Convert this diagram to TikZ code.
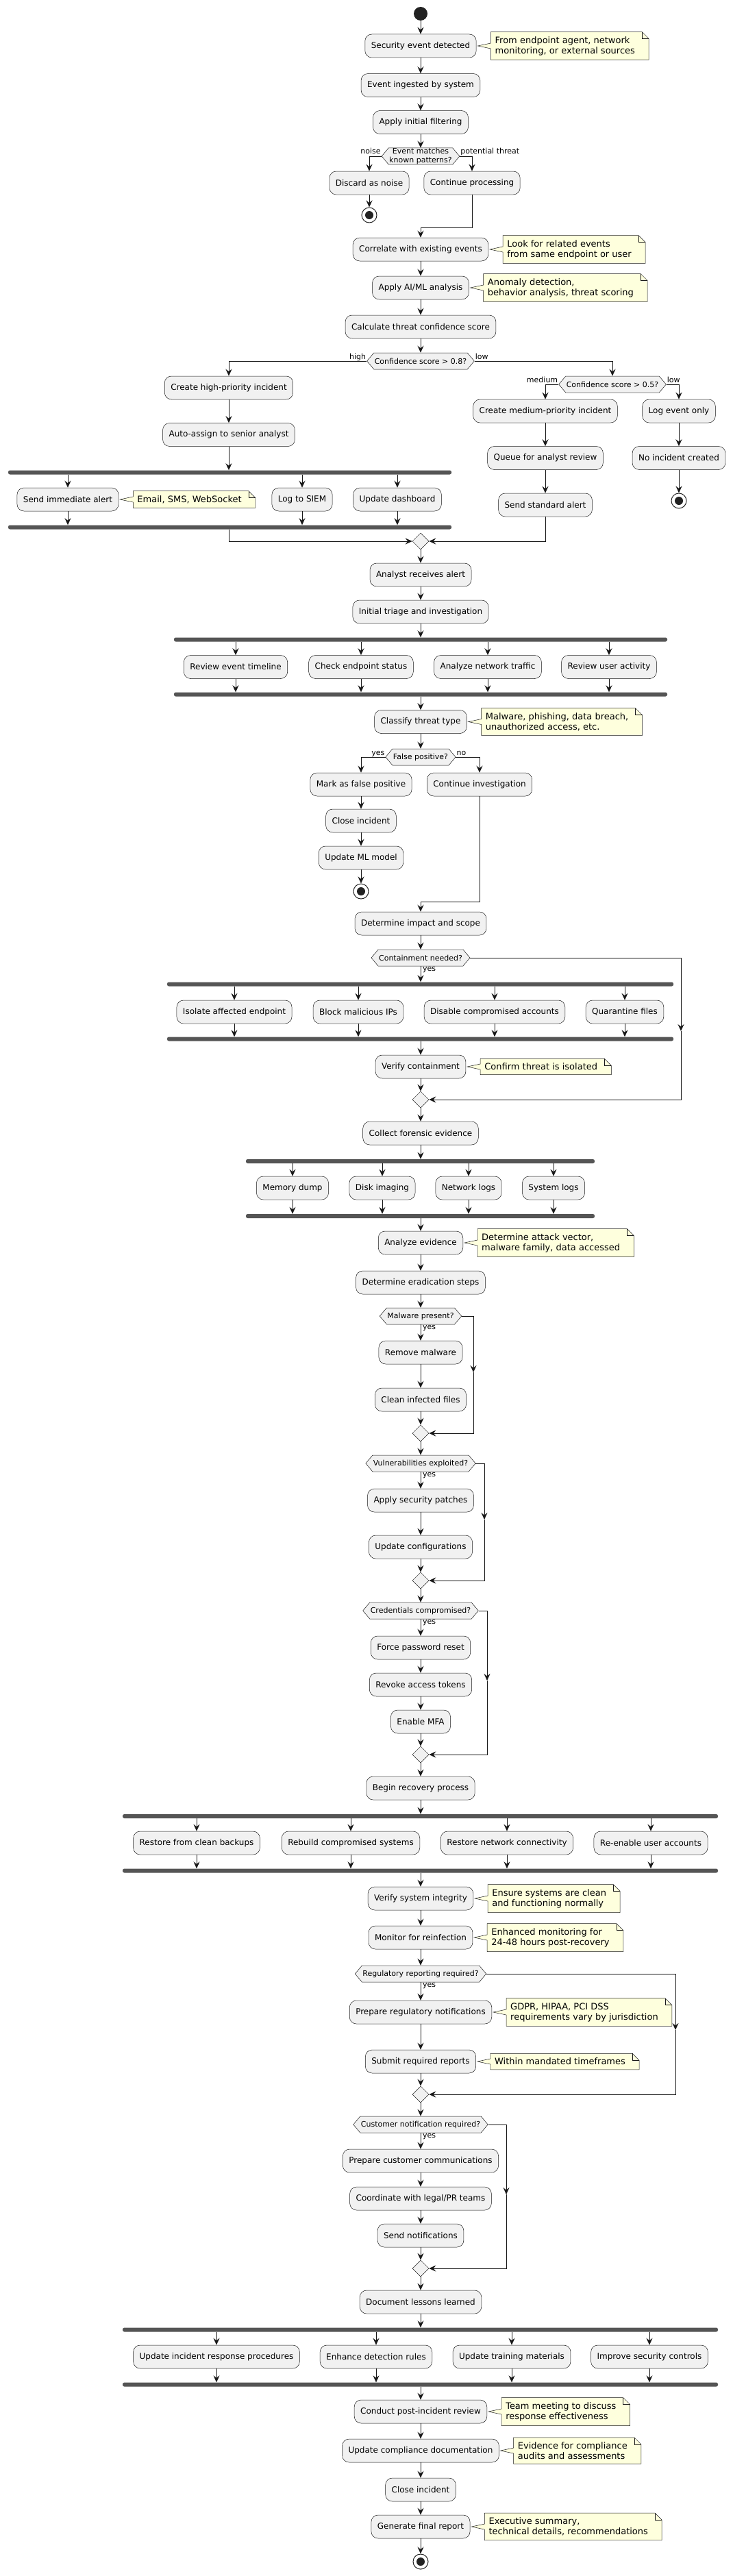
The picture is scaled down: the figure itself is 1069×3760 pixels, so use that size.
\documentclass[tikz,border=0pt]{standalone}
\usepackage{fontspec}
\setmainfont{DejaVu Sans}
\usetikzlibrary{positioning, arrows.meta, shapes.geometric, shapes.symbols, backgrounds}

\definecolor{actfill}{HTML}{F1F1F1}
\definecolor{linec}{HTML}{181818}
\definecolor{notefill}{HTML}{FEFFDD}
\definecolor{barc}{HTML}{555555}
\definecolor{dotc}{HTML}{222222}

\tikzset{
    act/.style={draw=linec, fill=actfill, line width=0.5pt, rounded corners=10pt, minimum height=34pt, inner xsep=9pt, font=\fontsize{12}{14}\selectfont},
    dec/.style={signal, signal to=west and east, signal pointer angle=100, draw=linec, fill=actfill, line width=0.5pt, minimum height=24pt, inner xsep=1pt, inner ysep=1pt, align=center, font=\fontsize{11}{13}\selectfont},
    merge/.style={diamond, draw=linec, fill=actfill, line width=0.5pt, minimum width=24pt, minimum height=24pt, inner sep=0pt},
    bar/.style={fill=barc, rounded corners=2.5pt, minimum height=6pt, inner sep=0pt},
    notetext/.style={align=left, inner xsep=6pt, inner ysep=6.5pt, font=\fontsize{13}{15}\selectfont},
    notebox/.style={draw=linec, fill=notefill, line width=0.5pt},
    startnode/.style={circle, fill=dotc, minimum size=20pt, inner sep=0pt},
    endnode/.style={circle, draw=dotc, fill=white, line width=1pt, minimum size=22pt, inner sep=0pt,
        path picture={\fill[dotc] (path picture bounding box.center) circle (6pt);}},
    flow/.style={draw=linec, line width=1pt, -{Stealth[length=10pt, width=9pt, inset=3.5pt]}},
    lbl/.style={font=\fontsize{11}{13}\selectfont, inner sep=1pt}
}

% note outline with folded corner and wedge towards its activity
\newcommand{\notebg}[2]{%
    \begin{scope}[on background layer]
        \draw[notebox] (#1.north west) -- ([xshift=4pt]#1.north east) -- ([xshift=14pt,yshift=-10pt]#1.north east)
            -- ([xshift=14pt]#1.south east) -- (#1.south west) -- ([yshift=-4pt]#1.west)
            -- ([xshift=2pt]#2.east) -- ([yshift=4pt]#1.west) -- cycle;
        \draw[notebox, fill=none] ([xshift=4pt]#1.north east) -- ([xshift=4pt,yshift=-10pt]#1.north east)
            -- ([xshift=14pt,yshift=-10pt]#1.north east);
    \end{scope}}

\begin{document}
\begin{tikzpicture}[x=1pt, y=-1pt]
\useasboundingbox (0,0) rectangle (1069,3760);
\begin{scope}[on background layer]
    \fill[white] (0,0) rectangle (1069,3760);
\end{scope}

% detection and filtering
\node[startnode] (s0) at (614,20) {};
\node[act] (a1) at (614,67) {Security event detected};
\node[notetext, right=21pt of a1] (n1) {From endpoint agent, network\\monitoring, or external sources};
\node[act] (a2) at (614,124.5) {Event ingested by system};
\node[act] (a3) at (614,178.5) {Apply initial filtering};
\node[dec, inner ysep=0pt] (d1) at (614,228) {Event matches\\known patterns?};
\node[act] (a4) at (539,267) {Discard as noise};
\node[endnode] (e1) at (539,314) {};
\node[act] (a5) at (689,267) {Continue processing};
\coordinate (k1) at (614,332);

\draw[flow] (s0) -- (a1.north);
\draw[flow] (a1.south) -- (a2.north);
\draw[flow] (a2.south) -- (a3.north);
\draw[flow] (a3.south) -- (d1.north);
\draw[flow] (d1.west) -| (a4.north);
\draw[flow] (d1.east) -| (a5.north);
\draw[flow] (a4.south) -- (e1.north);
\node[lbl, anchor=base east] (l1) at ([yshift=3pt]d1.west) {noise};
\node[lbl, anchor=base west] (l2) at ([yshift=3pt]d1.east) {potential threat};

% correlation and scoring
\node[act] (a6) at (614,364) {Correlate with existing events};
\node[notetext, right=21pt of a6] (n2) {Look for related events\\from same endpoint or user};
\node[act] (a7) at (614,420) {Apply AI/ML analysis};
\node[notetext, right=21pt of a7] (n3) {Anomaly detection,\\behavior analysis, threat scoring};
\node[act] (a8) at (614,477) {Calculate threat confidence score};
\node[dec] (d2) at (614,527) {Confidence score > 0.8?};
\node[act] (a9) at (334,566) {Create high-priority incident};
\node[act] (a12) at (334,634.5) {Auto-assign to senior analyst};
\node[dec] (d3) at (894,561) {Confidence score > 0.5?};
\node[act] (a10) at (796,600) {Create medium-priority incident};
\node[act] (a16) at (796,668.5) {Queue for analyst review};
\node[act] (a18) at (796,737) {Send standard alert};
\node[act] (a11) at (991,600) {Log event only};
\node[act] (a17) at (991,668.5) {No incident created};
\node[endnode] (e2) at (991,731) {};

\draw[flow] (a5.south) |- (k1) -- (a6.north);
\draw[flow] (a6.south) -- (a7.north);
\draw[flow] (a7.south) -- (a8.north);
\draw[flow] (a8.south) -- (d2.north);
\draw[flow] (d2.west) -| (a9.north);
\draw[flow] (d2.east) -| (d3.north);
\draw[flow] (d3.west) -| (a10.north);
\draw[flow] (d3.east) -| (a11.north);
\draw[flow] (a9.south) -- (a12.north);
\draw[flow] (a10.south) -- (a16.north);
\draw[flow] (a16.south) -- (a18.north);
\draw[flow] (a11.south) -- (a17.north);
\draw[flow] (a17.south) -- (e2.north);
\node[lbl, anchor=base east] (l3) at ([yshift=3pt]d2.west) {high};
\node[lbl, anchor=base west] (l4) at ([yshift=3pt]d2.east) {low};
\node[lbl, anchor=base east] (l5) at ([yshift=3pt]d3.west) {medium};
\node[lbl, anchor=base west] (l6) at ([yshift=3pt]d3.east) {low};

% high-priority alerting
\node[bar, minimum width=647pt] (f1) at (335.5,689.5) {};
\node[act] (a13) at (99,729) {Send immediate alert};
\node[notetext, right=21pt of a13] (n4) {Email, SMS, WebSocket};
\node[act] (a14) at (441,729) {Log to SIEM};
\node[act] (a15) at (580,729) {Update dashboard};
\node[bar, minimum width=647pt] (j1) at (335.5,769.5) {};
\node[merge] (m1) at (614,790) {};

\draw[flow] (a12.south) -- (f1.north -| a12);
\foreach \leaf in {a13,a14,a15}{
    \draw[flow] (f1.south -| \leaf) -- (\leaf.north);
    \draw[flow] (\leaf.south) -- (j1.north -| \leaf);
}
\draw[flow] (j1.south -| a12) |- (m1.west);
\draw[flow] (a18.south) |- (m1.east);

% triage
\node[act] (a19) at (614,839) {Analyst receives alert};
\node[act] (a20) at (614,893) {Initial triage and investigation};
\node[bar, minimum width=720pt] (f2) at (614,933.5) {};
\node[act] (a21) at (344,973.5) {Review event timeline};
\node[act] (a22) at (527,973.5) {Check endpoint status};
\node[act] (a23) at (712,973.5) {Analyze network traffic};
\node[act] (a24) at (889,973.5) {Review user activity};
\node[bar, minimum width=720pt] (j2) at (614,1013.5) {};
\node[act] (a25) at (614,1053.5) {Classify threat type};
\node[notetext, right=21pt of a25] (n5) {Malware, phishing, data breach,\\unauthorized access, etc.};
\node[dec] (d4) at (614,1105) {False positive?};
\node[act] (a26) at (527,1145) {Mark as false positive};
\node[act] (a28) at (527,1198) {Close incident};
\node[act] (a29) at (527,1252) {Update ML model};
\node[endnode] (e3) at (527,1301) {};
\node[act] (a27) at (700,1145) {Continue investigation};
\coordinate (k2) at (614,1316);

\draw[flow] (m1.south) -- (a19.north);
\draw[flow] (a19.south) -- (a20.north);
\draw[flow] (a20.south) -- (f2.north);
\foreach \leaf in {a21,a22,a23,a24}{
    \draw[flow] (f2.south -| \leaf) -- (\leaf.north);
    \draw[flow] (\leaf.south) -- (j2.north -| \leaf);
}
\draw[flow] (j2.south) -- (a25.north);
\draw[flow] (a25.south) -- (d4.north);
\draw[flow] (d4.west) -| (a26.north);
\draw[flow] (d4.east) -| (a27.north);
\draw[flow] (a26.south) -- (a28.north);
\draw[flow] (a28.south) -- (a29.north);
\draw[flow] (a29.south) -- (e3.north);
\node[lbl, anchor=base east] (l7) at ([yshift=3pt]d4.west) {yes};
\node[lbl, anchor=base west] (l8) at ([yshift=3pt]d4.east) {no};

% containment
\node[act] (a30) at (614,1348) {Determine impact and scope};
\node[dec] (d5) at (614,1398) {Containment needed?};
\node[bar, minimum width=739pt] (f3) at (613.5,1436.5) {};
\node[act] (a31) at (342,1477) {Isolate affected endpoint};
\node[act] (a32) at (523,1477) {Block malicious IPs};
\node[act] (a33) at (722,1477) {Disable compromised accounts};
\node[act] (a34) at (912,1477) {Quarantine files};
\node[bar, minimum width=739pt] (j3) at (613.5,1516.5) {};
\node[act] (a35) at (614,1557) {Verify containment};
\node[notetext, right=21pt of a35] (n6) {Confirm threat is isolated};
\node[merge] (m2) at (614,1605) {};
\coordinate (c5) at (994,1505);

\draw[flow] (a27.south) |- (k2) -- (a30.north);
\draw[flow] (a30.south) -- (d5.north);
\draw[flow] (d5.south) -- (f3.north -| d5);
\foreach \leaf in {a31,a32,a33,a34}{
    \draw[flow] (f3.south -| \leaf) -- (\leaf.north);
    \draw[flow] (\leaf.south) -- (j3.north -| \leaf);
}
\draw[flow] (j3.south -| a35) -- (a35.north);
\draw[flow] (a35.south) -- (m2.north);
\draw[flow] (d5.east) -| (c5);
\draw[flow] (c5) |- (m2.east);
\node[lbl, anchor=north west] (l9) at ([xshift=2pt]d5.south) {yes};

% forensics
\node[act] (a36) at (614,1654) {Collect forensic evidence};
\node[bar, minimum width=509pt] (f4) at (613.5,1695) {};
\node[act] (a37) at (427,1734) {Memory dump};
\node[act] (a38) at (558,1734) {Disk imaging};
\node[act] (a39) at (684,1734) {Network logs};
\node[act] (a40) at (808,1734) {System logs};
\node[bar, minimum width=509pt] (j4) at (613.5,1775) {};
\node[act] (a41) at (614,1814) {Analyze evidence};
\node[notetext, right=21pt of a41] (n7) {Determine attack vector,\\malware family, data accessed};

\draw[flow] (m2.south) -- (a36.north);
\draw[flow] (a36.south) -- (f4.north -| a36);
\foreach \leaf in {a37,a38,a39,a40}{
    \draw[flow] (f4.south -| \leaf) -- (\leaf.north);
    \draw[flow] (\leaf.south) -- (j4.north -| \leaf);
}
\draw[flow] (j4.south -| a41) -- (a41.north);

% eradication
\node[act] (a42) at (614,1872) {Determine eradication steps};
\node[dec] (d6) at (614,1921) {Malware present?};
\node[act] (a43) at (614,1974) {Remove malware};
\node[act] (a44) at (614,2043) {Clean infected files};
\node[merge] (m3) at (614,2092) {};
\coordinate (c6) at (691,2003);
\node[dec] (d7) at (614,2136) {Vulnerabilities exploited?};
\node[act] (a45) at (614,2190) {Apply security patches};
\node[act] (a46) at (614,2258) {Update configurations};
\node[merge] (m4) at (614,2307) {};
\coordinate (c7) at (707,2218);
\node[dec] (d8) at (614,2351) {Credentials compromised?};
\node[act] (a47) at (614,2405) {Force password reset};
\node[act] (a48) at (614,2459) {Revoke access tokens};
\node[act] (a49) at (614,2513) {Enable MFA};
\node[merge] (m5) at (614,2561) {};
\coordinate (c8) at (711,2453);

\draw[flow] (a41.south) -- (a42.north);
\draw[flow] (a42.south) -- (d6.north);
\draw[flow] (d6.south) -- (a43.north);
\draw[flow] (a43.south) -- (a44.north);
\draw[flow] (a44.south) -- (m3.north);
\draw[flow] (d6.east) -| (c6);
\draw[flow] (c6) |- (m3.east);
\draw[flow] (m3.south) -- (d7.north);
\draw[flow] (d7.south) -- (a45.north);
\draw[flow] (a45.south) -- (a46.north);
\draw[flow] (a46.south) -- (m4.north);
\draw[flow] (d7.east) -| (c7);
\draw[flow] (c7) |- (m4.east);
\draw[flow] (m4.south) -- (d8.north);
\draw[flow] (d8.south) -- (a47.north);
\draw[flow] (a47.south) -- (a48.north);
\draw[flow] (a48.south) -- (a49.north);
\draw[flow] (a49.south) -- (m5.north);
\draw[flow] (d8.east) -| (c8);
\draw[flow] (c8) |- (m5.east);
\node[lbl, anchor=north west] (l10) at ([xshift=2pt]d6.south) {yes};
\node[lbl, anchor=north west] (l11) at ([xshift=2pt]d7.south) {yes};
\node[lbl, anchor=north west] (l12) at ([xshift=2pt]d8.south) {yes};

% recovery
\node[act] (a50) at (614,2610) {Begin recovery process};
\node[bar, minimum width=869pt] (f5) at (613.5,2651) {};
\node[act] (a51) at (287,2690) {Restore from clean backups};
\node[act] (a52) at (512,2690) {Rebuild compromised systems};
\node[act] (a53) at (740,2690) {Restore network connectivity};
\node[act] (a54) at (950,2690) {Re-enable user accounts};
\node[bar, minimum width=869pt] (j5) at (613.5,2730.5) {};
\node[act] (a55) at (614,2771) {Verify system integrity};
\node[notetext, right=21pt of a55] (n8) {Ensure systems are clean\\and functioning normally};
\node[act] (a56) at (614,2828) {Monitor for reinfection};
\node[notetext, right=21pt of a56] (n9) {Enhanced monitoring for\\24-48 hours post-recovery};

\draw[flow] (m5.south) -- (a50.north);
\draw[flow] (a50.south) -- (f5.north -| a50);
\foreach \leaf in {a51,a52,a53,a54}{
    \draw[flow] (f5.south -| \leaf) -- (\leaf.north);
    \draw[flow] (\leaf.south) -- (j5.north -| \leaf);
}
\draw[flow] (j5.south -| a55) -- (a55.north);
\draw[flow] (a55.south) -- (a56.north);

% notifications
\node[dec] (d9) at (614,2881) {Regulatory reporting required?};
\node[act] (a57) at (614,2937) {Prepare regulatory notifications};
\node[notetext, right=21pt of a57] (n10) {GDPR, HIPAA, PCI DSS\\requirements vary by jurisdiction};
\node[act] (a58) at (614,3009) {Submit required reports};
\node[notetext, right=21pt of a58] (n11) {Within mandated timeframes};
\node[merge] (m6) at (614,3057) {};
\coordinate (c9) at (986,2963);
\node[dec] (d10) at (614,3101) {Customer notification required?};
\node[act] (a59) at (614,3154) {Prepare customer communications};
\node[act] (a60) at (614,3209) {Coordinate with legal/PR teams};
\node[act] (a61) at (614,3263) {Send notifications};
\node[merge] (m7) at (614,3311) {};
\coordinate (c10) at (739,3203);

\draw[flow] (a56.south) -- (d9.north);
\draw[flow] (d9.south) -- (a57.north);
\draw[flow] (a57.south) -- (a58.north);
\draw[flow] (a58.south) -- (m6.north);
\draw[flow] (d9.east) -| (c9);
\draw[flow] (c9) |- (m6.east);
\draw[flow] (m6.south) -- (d10.north);
\draw[flow] (d10.south) -- (a59.north);
\draw[flow] (a59.south) -- (a60.north);
\draw[flow] (a60.south) -- (a61.north);
\draw[flow] (a61.south) -- (m7.north);
\draw[flow] (d10.east) -| (c10);
\draw[flow] (c10) |- (m7.east);
\node[lbl, anchor=north west] (l13) at ([xshift=2pt]d9.south) {yes};
\node[lbl, anchor=north west] (l14) at ([xshift=2pt]d10.south) {yes};

% lessons learned and closure
\node[act] (a62) at (614,3360) {Document lessons learned};
\node[bar, minimum width=869pt] (f6) at (613.5,3400.5) {};
\node[act] (a63) at (316,3440) {Update incident response procedures};
\node[act] (a64) at (549,3440) {Enhance detection rules};
\node[act] (a65) at (747,3440) {Update training materials};
\node[act] (a66) at (948,3440) {Improve security controls};
\node[bar, minimum width=869pt] (j6) at (613.5,3480.5) {};
\node[act] (a67) at (614,3520) {Conduct post-incident review};
\node[notetext, right=21pt of a67] (n12) {Team meeting to discuss\\response effectiveness};
\node[act] (a68) at (614,3577) {Update compliance documentation};
\node[notetext, right=21pt of a68] (n13) {Evidence for compliance\\audits and assessments};
\node[act] (a69) at (614,3634) {Close incident};
\node[act] (a70) at (614,3688) {Generate final report};
\node[notetext, right=21pt of a70] (n14) {Executive summary,\\technical details, recommendations};
\node[endnode] (e4) at (614,3739) {};

\draw[flow] (m7.south) -- (a62.north);
\draw[flow] (a62.south) -- (f6.north -| a62);
\foreach \leaf in {a63,a64,a65,a66}{
    \draw[flow] (f6.south -| \leaf) -- (\leaf.north);
    \draw[flow] (\leaf.south) -- (j6.north -| \leaf);
}
\draw[flow] (j6.south -| a67) -- (a67.north);
\draw[flow] (a67.south) -- (a68.north);
\draw[flow] (a68.south) -- (a69.north);
\draw[flow] (a69.south) -- (a70.north);
\draw[flow] (a70.south) -- (e4.north);

% note outlines
\notebg{n1}{a1}
\notebg{n2}{a6}
\notebg{n3}{a7}
\notebg{n4}{a13}
\notebg{n5}{a25}
\notebg{n6}{a35}
\notebg{n7}{a41}
\notebg{n8}{a55}
\notebg{n9}{a56}
\notebg{n10}{a57}
\notebg{n11}{a58}
\notebg{n12}{a67}
\notebg{n13}{a68}
\notebg{n14}{a70}
\end{tikzpicture}
\end{document}
